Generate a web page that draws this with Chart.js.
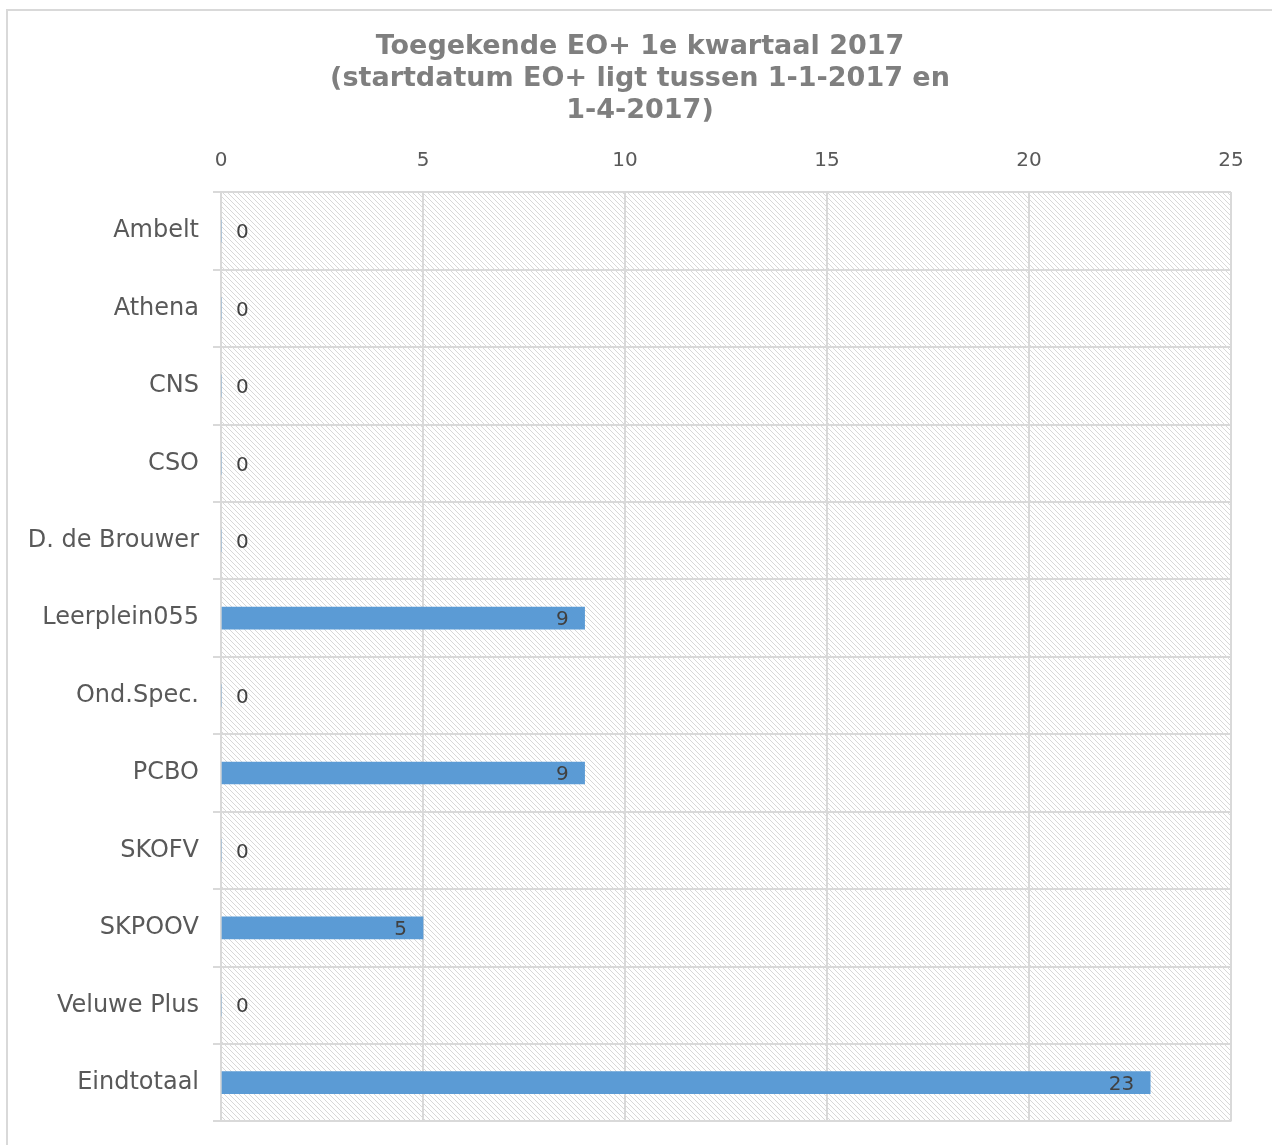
<!DOCTYPE html>
<html lang="nl">
<head>
  <meta charset="UTF-8">
  <title>Toegekende EO+ 1e kwartaal 2017</title>
  <script src="https://cdn.jsdelivr.net/npm/chart.js"></script>
  <style>
    html, body { margin: 0; padding: 0; background: #fff; }
    canvas { display: block; }
  </style>
</head>
<body>
  <canvas id="eoChart" width="1272" height="1145"></canvas>

  <script>
    // data
    const schools = ['Ambelt', 'Athena', 'CNS', 'CSO', 'D. de Brouwer', 'Leerplein055',
                     'Ond.Spec.', 'PCBO', 'SKOFV', 'SKPOOV', 'Veluwe Plus', 'Eindtotaal']
    const toegekend = [0, 0, 0, 0, 0, 9, 0, 9, 0, 5, 0, 23]
    const titleLines = ['Toegekende EO+ 1e kwartaal 2017',
                        '(startdatum EO+ ligt tussen 1-1-2017 en',
                        '1-4-2017)']
    const xMax = 25
    const xStep = 5

    const fontFam = '"DejaVu Sans", Verdana, sans-serif'
    const gridCol = '#d9d9d9'

    // gestreepte achtergrond van het plotgebied
    function makeHatch() {
      const c = document.createElement('canvas')
      c.width = 5; c.height = 5
      const g = c.getContext('2d')
      g.fillStyle = '#ffffff'
      g.fillRect(0, 0, 5, 5)
      g.strokeStyle = '#d8d8d8'
      g.lineWidth = 1
      g.beginPath()
      g.moveTo(-1, -1); g.lineTo(6, 6)
      g.moveTo(-1, 4); g.lineTo(2, 7)
      g.moveTo(4, -1); g.lineTo(7, 2)
      g.stroke()
      return g.createPattern(c, 'repeat')
    }

    const bgPlugin = {
      id: 'bgPlugin',
      beforeDraw(chart) {
        const ctx = chart.ctx
        ctx.save()
        ctx.fillStyle = '#ffffff'
        ctx.fillRect(0, 0, chart.width, chart.height)
        ctx.strokeStyle = gridCol
        ctx.lineWidth = 2
        ctx.strokeRect(7, 10, chart.width + 20, chart.height + 20)
        const a = chart.chartArea
        ctx.fillStyle = makeHatch()
        ctx.fillRect(a.left, a.top, a.right - a.left, a.bottom - a.top)
        ctx.restore()
      }
    }

    // waardelabels in de balken
    const labelPlugin = {
      id: 'labelPlugin',
      afterDatasetsDraw(chart) {
        const ctx = chart.ctx
        const meta = chart.getDatasetMeta(0)
        ctx.save()
        ctx.font = '20px ' + fontFam
        ctx.fillStyle = '#404040'
        ctx.textBaseline = 'middle'
        meta.data.forEach(function (bar, i) {
          const v = toegekend[i]
          if (v > 0) {
            ctx.textAlign = 'right'
            ctx.fillText(String(v), bar.x - 16, bar.y + 2)
          } else {
            ctx.textAlign = 'left'
            ctx.fillText(String(v), bar.base + 15, bar.y + 2)
          }
        })
        ctx.restore()
      }
    }

    const config = {
      type: 'bar',
      data: {
        labels: schools,
        datasets: [{
          data: toegekend,
          backgroundColor: '#5b9bd5',
          barThickness: 22
        }]
      },
      options: {
        indexAxis: 'y',
        responsive: false,
        animation: false,
        layout: { padding: { left: 8, right: 0, top: 0, bottom: 23 } },
        plugins: {
          legend: { display: false },
          tooltip: { enabled: false },
          title: {
            display: true,
            text: titleLines,
            color: '#7f7f7f',
            font: { family: fontFam, size: 27, weight: 'bold', lineHeight: 1.19 },
            padding: { top: 31, bottom: 0 }
          }
        },
        scales: {
          x: {
            position: 'top',
            min: 0,
            max: xMax,
            ticks: {
              stepSize: xStep,
              color: '#595959',
              font: { family: fontFam, size: 20 },
              padding: 20
            },
            grid: { color: gridCol, lineWidth: 2, drawTicks: false },
            border: { display: false },
            afterFit(scale) { scale.height = 65 }
          },
          y: {
            ticks: {
              color: '#595959',
              font: { family: fontFam, size: 24, lineHeight: 0.8 },
              padding: 14
            },
            grid: { color: gridCol, lineWidth: 2, offset: true, tickLength: 8 },
            border: { color: gridCol, width: 2 },
            afterFit(scale) { scale.width = 213 }
          },
          // lege ruimte rechts van het plotgebied
          yRight: {
            type: 'category',
            position: 'right',
            ticks: { display: false },
            grid: { display: false },
            border: { display: false },
            afterFit(scale) { scale.width = 41 }
          }
        }
      },
      plugins: [bgPlugin, labelPlugin]
    }

    const eoChart = new Chart(document.getElementById('eoChart'), config)
  </script>
</body>
</html>
